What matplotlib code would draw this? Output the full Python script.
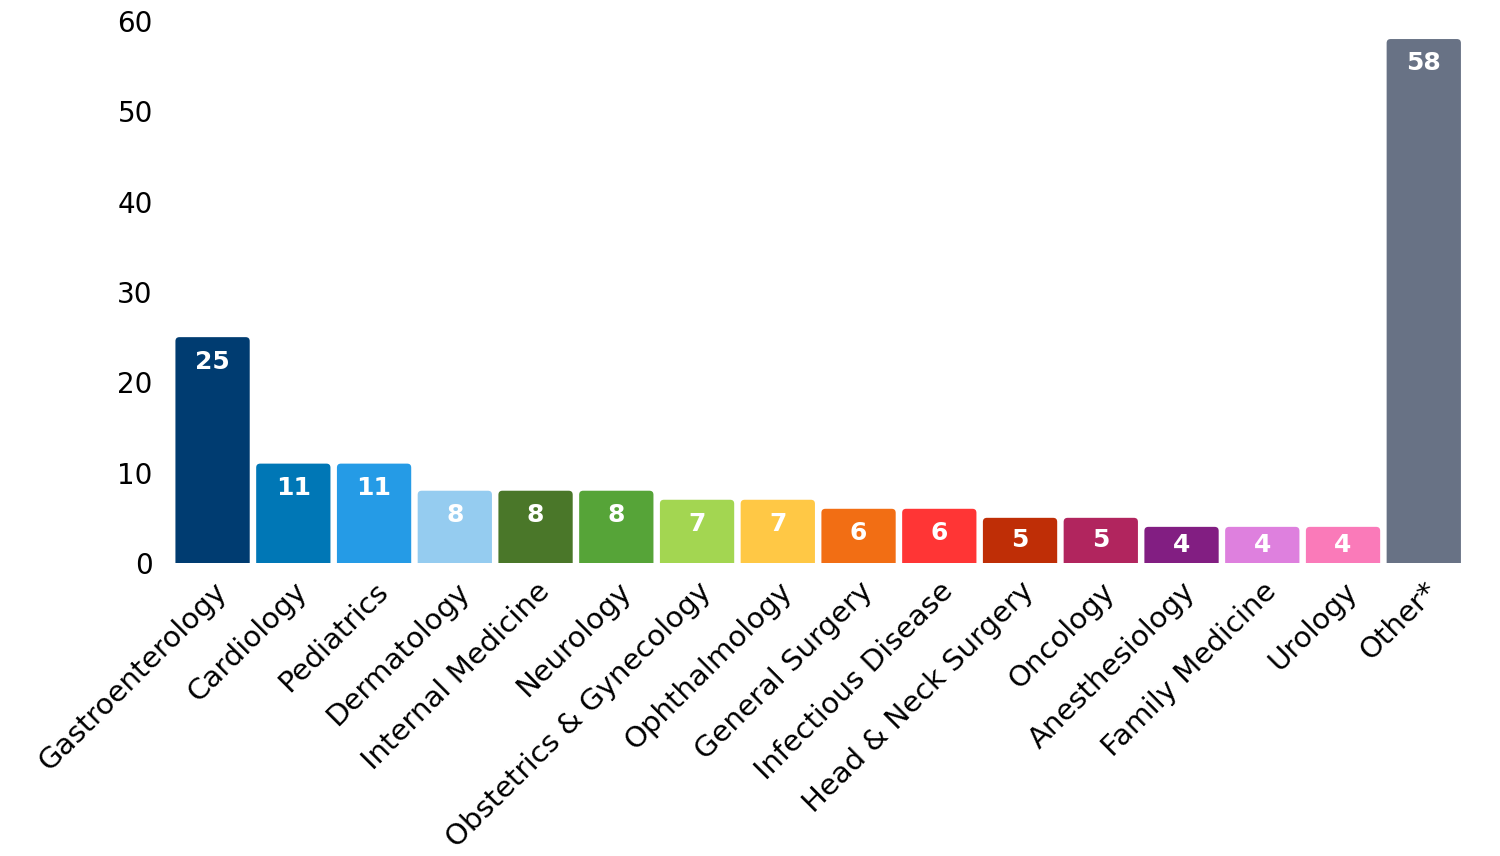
import matplotlib
matplotlib.use("Agg")
import matplotlib.pyplot as plt
from matplotlib.patches import FancyBboxPatch

categories = ["Gastroenterology", "Cardiology", "Pediatrics", "Dermatology",
              "Internal Medicine", "Neurology", "Obstetrics & Gynecology",
              "Ophthalmology", "General Surgery", "Infectious Disease",
              "Head & Neck Surgery", "Oncology", "Anesthesiology",
              "Family Medicine", "Urology", "Other*"]
values = [25, 11, 11, 8, 8, 8, 7, 7, 6, 6, 5, 5, 4, 4, 4, 58]
colors = ["#003C71", "#0077B6", "#259BE6", "#95CCF0", "#4A7729", "#56A438",
          "#A3D651", "#FFC845", "#F26E14", "#FF3535", "#BF2E06", "#B1255E",
          "#821E82", "#DE80DE", "#FA7AB9", "#687285"]
yticks = [0, 10, 20, 30, 40, 50, 60]

FONT = ["DejaVu Sans"]
plt.rcParams["font.family"] = FONT

fig = plt.figure(figsize=(15, 8.56), dpi=100)
ax = fig.add_axes([0.1148, 0.3423, 0.8613, 0.6332])

x = list(range(len(categories)))
bars = ax.bar(x, values, width=0.92, color=colors)

# Replace bars with rounded-top patches
px_per_x = 0.8613 * 1500 / 16.0
px_per_y = 0.6332 * 856 / 60.0
r = 4.0
for b, c in zip(bars, colors):
    b.set_visible(False)
    bx, bw, bh = b.get_x(), b.get_width(), b.get_height()
    patch = FancyBboxPatch((bx, -1.0), bw, bh + 1.0,
                           boxstyle=f"round,pad=0,rounding_size={r / px_per_x}",
                           mutation_aspect=px_per_x / px_per_y,
                           facecolor=c, edgecolor="none", clip_on=True)
    ax.add_patch(patch)

for xi, v in zip(x, values):
    ypos = max(v / 2.0, v - 2.7)
    ax.text(xi, ypos, str(v), ha="center", va="center", color="white",
            fontsize=18, fontweight="bold")

ax.set_xlim(-0.5, len(categories) - 0.5)
ax.set_ylim(0, 60)
ax.set_yticks(yticks)
ax.set_yticklabels([str(t) for t in yticks], fontsize=20)
ax.set_xticks(x)
ax.set_xticklabels(categories, rotation=45, ha="right", rotation_mode="anchor",
                   fontsize=21)
ax.tick_params(axis="both", length=0)
ax.tick_params(axis="y", pad=14)
ax.tick_params(axis="x", pad=10)
for s in ax.spines.values():
    s.set_visible(False)

fig.savefig("out.png", dpi=100, facecolor="white")
